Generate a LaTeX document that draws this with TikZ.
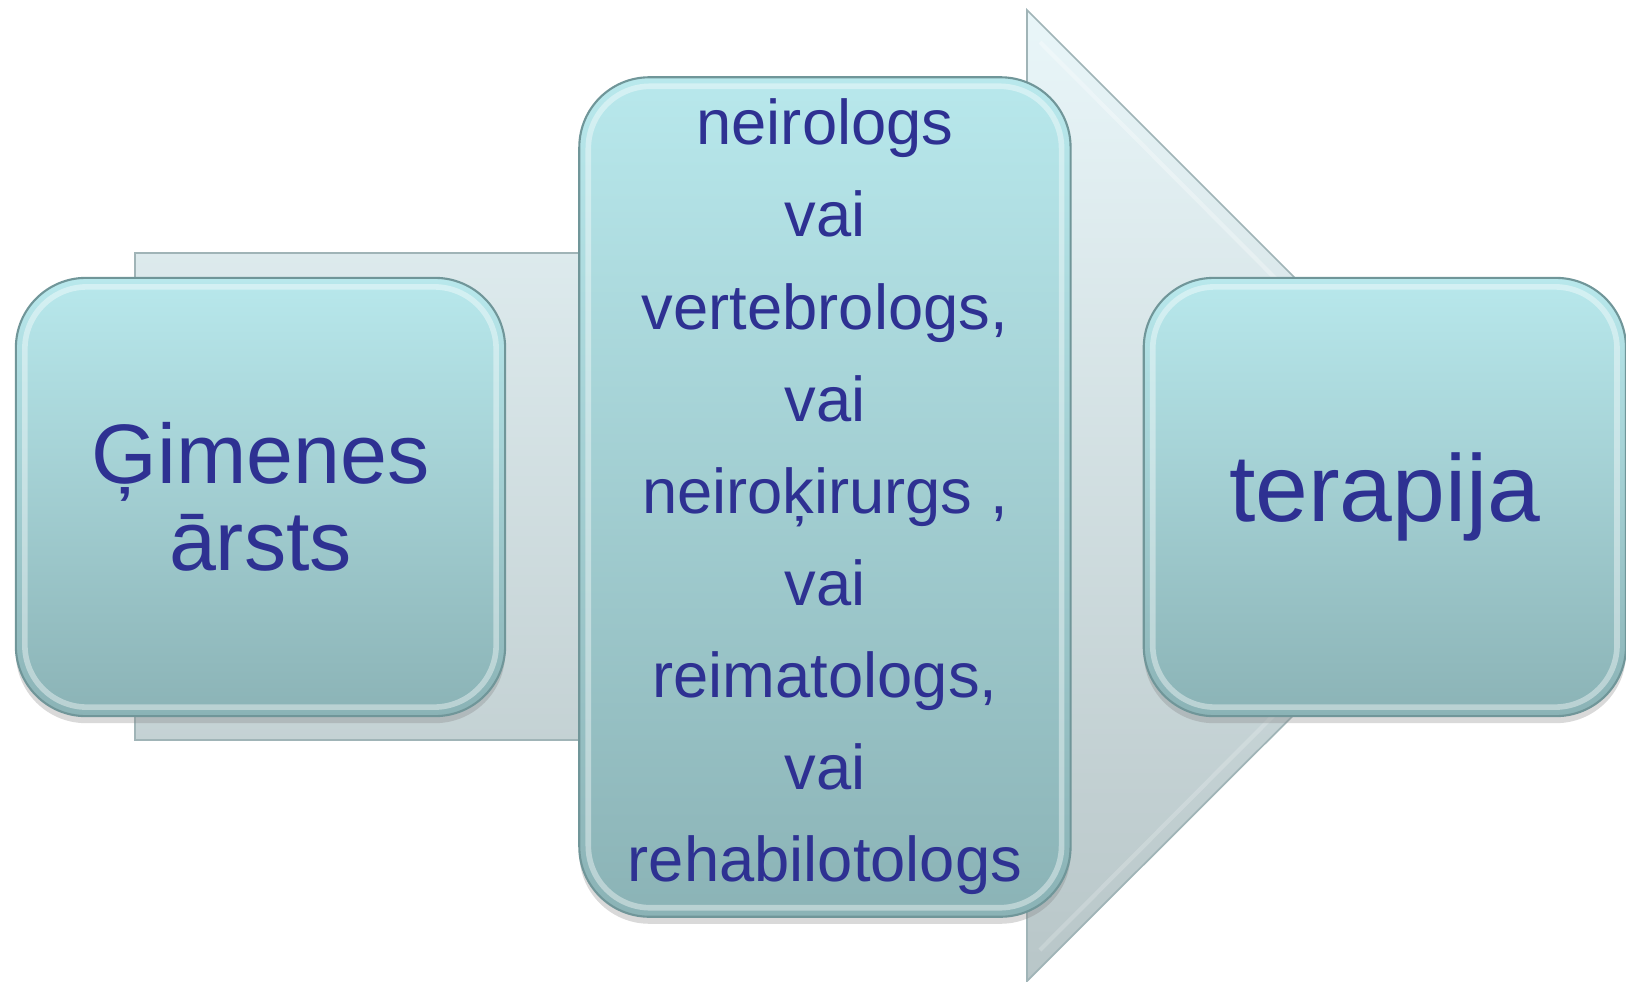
\documentclass[tikz,border=0pt]{standalone}
\usepackage{fontspec}
\setmainfont{Liberation Sans}
\usepackage{xcolor}
\usetikzlibrary{positioning, shadows}

\definecolor{boxtop}{RGB}{184,232,236}
\definecolor{boxbot}{RGB}{139,179,182}
\definecolor{boxline}{RGB}{112,150,153}
\definecolor{arrtop}{RGB}{233,246,249}
\definecolor{arrbot}{RGB}{184,198,200}
\definecolor{arrline}{RGB}{160,180,183}
\definecolor{txtblue}{RGB}{46,49,146}

\tikzstyle{stage} = [rectangle, rounded corners=0.7cm,
draw=boxline, line width=0.6pt,
top color=boxtop, bottom color=boxbot,
text=txtblue, text centered, align=center, inner sep=0pt,
drop shadow={shadow xshift=0pt, shadow yshift=-2pt, opacity=0.3},
path picture={\draw[white, opacity=0.4, line width=1.6pt, rounded corners=0.62cm]
  ([shift={(0.09cm,-0.09cm)}]path picture bounding box.north west) rectangle
  ([shift={(-0.09cm,0.09cm)}]path picture bounding box.south east);}]
\tikzstyle{flow} = [draw=arrline, line width=0.5pt, top color=arrtop, bottom color=arrbot]

\begin{document}
\begin{tikzpicture}[x=0.01cm, y=-0.01cm, node distance=0.72cm]
        \useasboundingbox (0,0) rectangle (1626,981);

        % --- Flecha de fondo ---
        \path [flow] (135,253) -- (1027,253) -- (1027,10) -- (1513,496)
            -- (1027,981) -- (1027,740) -- (135,740) -- cycle;
        \draw [white, opacity=0.3, line width=1.2pt] (1040,42) -- (1482,486);
        \draw [white, opacity=0.2, line width=1.2pt] (1040,950) -- (1482,506);

        % --- Etapas ---
        \node (gp) [stage, minimum width=4.89cm, minimum height=4.38cm,
            font=\fontsize{24}{24.7}\selectfont] at (260.5,497) {Ģimenes\\ ārsts};
        \node (spec) [stage, minimum width=4.91cm, minimum height=8.39cm, right=of gp,
            font=\fontsize{18}{26.2}\selectfont]
            {neirologs\\ vai\\ vertebrologs,\\ vai\\ neiroķirurgs ,\\ vai\\
             reimatologs,\\ vai\\ rehabilotologs};
        \node (ther) [stage, minimum width=4.82cm, minimum height=4.38cm, right=0.71cm of spec,
            font=\fontsize{27}{32}\selectfont] {terapija};

    \end{tikzpicture}
\end{document}
